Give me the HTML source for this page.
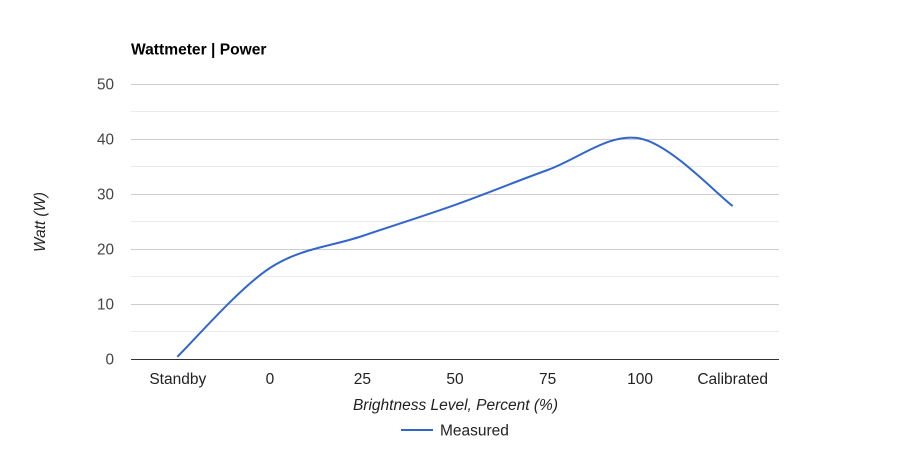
<!DOCTYPE html>
<html><head><meta charset="utf-8"><style>
html,body{margin:0;padding:0;background:#fff;}
svg{display:block;font-family:"Liberation Sans",Arial,sans-serif;}
</style></head><body>
<svg width="897" height="459" viewBox="0 0 897 459" xmlns="http://www.w3.org/2000/svg">
<rect width="897" height="459" fill="#fff"/>
<text x="131" y="54.5" font-size="15.6" font-weight="bold" fill="#000">Wattmeter | Power</text>
<g stroke="#ebebeb" stroke-width="1">
<line x1="131" x2="779" y1="111.5" y2="111.5"/>
<line x1="131" x2="779" y1="166.5" y2="166.5"/>
<line x1="131" x2="779" y1="221.5" y2="221.5"/>
<line x1="131" x2="779" y1="276.5" y2="276.5"/>
<line x1="131" x2="779" y1="331.5" y2="331.5"/>
</g>
<g stroke="#cccccc" stroke-width="1">
<line x1="131" x2="779" y1="84.5" y2="84.5"/>
<line x1="131" x2="779" y1="139.5" y2="139.5"/>
<line x1="131" x2="779" y1="194.5" y2="194.5"/>
<line x1="131" x2="779" y1="249.5" y2="249.5"/>
<line x1="131" x2="779" y1="304.5" y2="304.5"/>
</g>
<g font-size="15.3" fill="#444" text-anchor="end">
<text x="114" y="89.5">50</text>
<text x="114" y="144.5">40</text>
<text x="114" y="199.5">30</text>
<text x="114" y="254.5">20</text>
<text x="114" y="309.5">10</text>
<text x="114" y="364.5">0</text>
</g>
<text transform="translate(45,222) rotate(-90)" font-size="15.3" font-style="italic" fill="#222" text-anchor="middle">Watt (W)</text>
<path d="M177.3,356.8 C192.7,342 239,288.1 269.9,268 C300.8,247.9 331.6,246.5 362.4,236 C393.3,225.5 424.1,215.9 455,204.9 C485.9,193.9 516.8,181.1 547.6,170 C578.5,158.9 609.3,132.5 640.1,138.5 C671,144.5 717.3,194.8 732.7,206" fill="none" stroke="#3366cc" stroke-width="2"/>
<line x1="131" x2="779" y1="359.5" y2="359.5" stroke="#333" stroke-width="1"/>
<g font-size="15.5" fill="#222" text-anchor="middle">
<text x="177.8" y="384">Standby</text>
<text x="269.9" y="384">0</text>
<text x="362.4" y="384">25</text>
<text x="455" y="384">50</text>
<text x="547.6" y="384">75</text>
<text x="640.1" y="384">100</text>
<text x="732.7" y="384">Calibrated</text>
</g>
<text x="455.5" y="410" font-size="15.5" font-style="italic" fill="#222" text-anchor="middle">Brightness Level, Percent (%)</text>
<line x1="401" x2="433" y1="430" y2="430" stroke="#3366cc" stroke-width="2"/>
<text x="440" y="435.5" font-size="15.5" fill="#222">Measured</text>
</svg>
</body></html>
